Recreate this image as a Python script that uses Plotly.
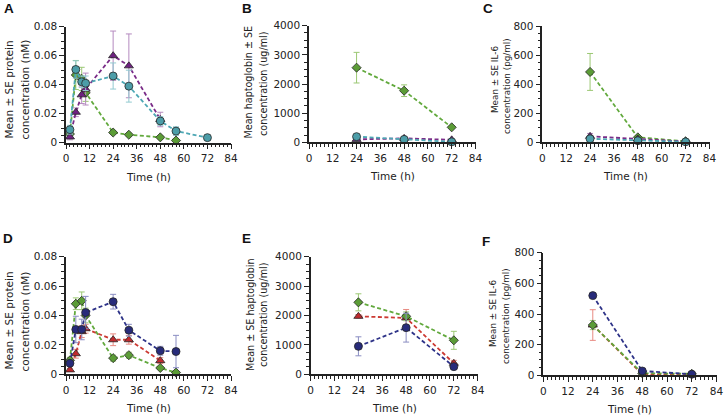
import plotly.graph_objects as go

W, H = 724, 416

# ---------------- data ----------------
hours_full = [2, 5, 8, 10, 24, 32, 48, 56, 72]
hours_to56 = [2, 5, 8, 10, 24, 32, 48, 56]
hours_to48 = [2, 5, 8, 10, 24, 32, 48]
hours_late = [24, 48, 72]

x_ticks = [0, 12, 24, 36, 48, 60, 72, 84]

# Panel A - protein concentration (nM)
A_purple = [0.004, 0.021, 0.033, 0.037, 0.060, 0.053, 0.016]
A_purple_se = [0.002, 0.003, 0.006, 0.011, 0.017, 0.022, 0.005]
A_teal = [0.009, 0.0505, 0.042, 0.041, 0.046, 0.039, 0.015, 0.008, 0.0035]
A_teal_se = [0.003, 0.006, 0.004, 0.005, 0.009, 0.011, 0.003, 0.003, 0.001]
A_green = [0.006, 0.0467, 0.044, 0.0345, 0.007, 0.0055, 0.0037, 0.0015]
A_green_se = [0.002, 0.010, 0.008, 0.006, 0.001, 0.001, 0.001, 0.0005]

# Panel B - haptoglobin (ug/ml)
B_green = [2560, 1770, 514]
B_green_se = [525, 200, 40]
B_purple = [100, 135, 85]
B_purple_se = [20, 60, 20]
B_teal = [194, 100, 15]
B_teal_se = [20, 20, 5]

# Panel C - IL-6 (pg/ml)
C_green = [484, 34, 7]
C_green_se = [127, 8, 3]
C_purple = [41, 23, 5]
C_purple_se = [20, 5, 2]
C_teal = [24, 11, 3]
C_teal_se = [10, 3, 1]

# Panel D - protein concentration (nM)
D_red = [0.003, 0.014, 0.029, 0.031, 0.0235, 0.0235, 0.0093]
D_red_se = [0.001, 0.003, 0.004, 0.003, 0.004, 0.003, 0.002]
D_green = [0.0095, 0.048, 0.050, 0.040, 0.011, 0.013, 0.0043, 0.0012]
D_green_se = [0.002, 0.004, 0.006, 0.005, 0.002, 0.002, 0.001, 0.0005]
D_navy = [0.0075, 0.0305, 0.0305, 0.042, 0.0494, 0.030, 0.016, 0.0155]
D_navy_se = [0.002, 0.009, 0.007, 0.011, 0.005, 0.004, 0.003, 0.011]

# Panel E - haptoglobin (ug/ml)
E_red = [1972, 1915, 374]
E_red_se = [60, 290, 100]
E_green = [2448, 1972, 1156]
E_green_se = [290, 150, 306]
E_navy = [952, 1586, 261]
E_navy_se = [323, 490, 60]

# Panel F - IL-6 (pg/ml)
F_navy = [520, 28, 7]
F_navy_se = [12, 5, 2]
F_red = [328, 7, 3]
F_red_se = [100, 3, 1]
F_green = [328, 13, 10]
F_green_se = [30, 5, 3]

# ---------------- styles ----------------
STY = {
    "purple": dict(fill="#6E2180", line="#7A2C88", err="#B58ABF", symbol="triangle-up", size=8),
    "teal": dict(fill="#4C9DA8", line="#4DA7B4", err="#92CAD1", symbol="circle", size=8),
    "green": dict(fill="#5B9C36", line="#62A93D", err="#9CC874", symbol="diamond", size=7),
    "navy": dict(fill="#272B7A", line="#2E3388", err="#8A8DC2", symbol="circle", size=8),
    "red": dict(fill="#BF2A2E", line="#CC3A33", err="#E88A82", symbol="triangle-up", size=8),
}

FONT = "DejaVu Sans"
AX_COLOR = "#222222"

# panel geometry in pixels: x0, x1, y_top, y_bottom
GEOM = {
    1: (66, 231, 26.7, 142.7),
    2: (309, 475.5, 25.7, 142.3),
    3: (542.3, 709.5, 26, 142.3),
    4: (66, 231, 256.7, 374.3),
    5: (310.7, 477.7, 256.7, 374.3),
    6: (543.3, 716.5, 252.7, 375.3),
}
YSPEC = {
    1: (0.08, 0.02, 0.005),
    2: (4000, 1000, 250),
    3: (800, 200, 50),
    4: (0.08, 0.02, 0.005),
    5: (4000, 1000, 250),
    6: (800, 200, 50),
}

fig = go.Figure()


def add(panel, name, xs, ys, se):
    s = STY[name]
    sfx = "" if panel == 1 else str(panel)
    fig.add_trace(go.Scatter(
        x=xs, y=ys, mode="lines+markers",
        xaxis="x" + sfx, yaxis="y" + sfx,
        line=dict(color=s["line"], width=1.8, dash="4px,2.5px"),
        marker=dict(symbol=s["symbol"], size=s["size"], color=s["fill"],
                    line=dict(color="#262626", width=0.8)),
        error_y=dict(type="data", array=se, visible=True, color=s["err"],
                     thickness=1, width=3),
        cliponaxis=False, showlegend=False,
    ))


add(1, "green", hours_to56, A_green, A_green_se)
add(1, "purple", hours_to48, A_purple, A_purple_se)
add(1, "teal", hours_full, A_teal, A_teal_se)

add(2, "green", hours_late, B_green, B_green_se)
add(2, "purple", hours_late, B_purple, B_purple_se)
add(2, "teal", hours_late, B_teal, B_teal_se)

add(3, "green", hours_late, C_green, C_green_se)
add(3, "purple", hours_late, C_purple, C_purple_se)
add(3, "teal", hours_late, C_teal, C_teal_se)

add(4, "red", hours_to48, D_red, D_red_se)
add(4, "green", hours_to56, D_green, D_green_se)
add(4, "navy", hours_to56, D_navy, D_navy_se)

add(5, "red", hours_late, E_red, E_red_se)
add(5, "green", hours_late, E_green, E_green_se)
add(5, "navy", hours_late, E_navy, E_navy_se)

add(6, "red", hours_late, F_red, F_red_se)
add(6, "green", hours_late, F_green, F_green_se)
add(6, "navy", hours_late, F_navy, F_navy_se)

layout = dict(
    width=W, height=H, margin=dict(l=0, r=0, t=0, b=0, autoexpand=False),
    paper_bgcolor="white", plot_bgcolor="white",
    font=dict(family=FONT, size=10.5, color=AX_COLOR),
    showlegend=False,
)

for p, (x0, x1, yt, yb) in GEOM.items():
    sfx = "" if p == 1 else str(p)
    ymax, ydt, ymin_dt = YSPEC[p]
    layout["xaxis" + sfx] = dict(
        domain=[x0 / W, x1 / W], anchor="y" + sfx, range=[0, 84], automargin=False,
        tickmode="array", tickvals=x_ticks,
        showline=True, linewidth=1.5, linecolor=AX_COLOR,
        ticks="outside", ticklen=5, tickwidth=1.2, tickcolor=AX_COLOR,
        minor=dict(ticks="outside", ticklen=3, tickwidth=1, tickcolor=AX_COLOR,
                   tickmode="linear", tick0=0, dtick=2),
        showgrid=False, zeroline=False, fixedrange=True,
        tickfont=dict(family=FONT, size=10.5, color=AX_COLOR),
    )
    layout["yaxis" + sfx] = dict(
        domain=[1 - yb / H, 1 - yt / H], anchor="x" + sfx, range=[0, ymax], automargin=False,
        tickmode="linear", tick0=0, dtick=ydt,
        showline=True, linewidth=1.5, linecolor=AX_COLOR,
        ticks="outside", ticklen=5, tickwidth=1.2, tickcolor=AX_COLOR,
        minor=dict(ticks="outside", ticklen=3, tickwidth=1, tickcolor=AX_COLOR,
                   tickmode="linear", tick0=0, dtick=ymin_dt),
        showgrid=False, zeroline=False, fixedrange=True,
        tickfont=dict(family=FONT, size=10.5, color=AX_COLOR),
    )
    # x-axis title
    fig.add_annotation(text="Time (h)", xref="paper", yref="paper",
                       x=(x0 + x1) / 2 / W, y=1 - (yb + 34) / H,
                       xanchor="center", yanchor="middle", showarrow=False,
                       font=dict(family=FONT, size=10.5, color=AX_COLOR))

fig.update_layout(**layout)

# y-axis titles (two lines each, rotated)
ytitles = [
    # (line text, x center px, y center px, font size)
    ("Mean ± SE protein", 8.5, 90, 10.5),
    ("concentration (nM)", 24.5, 89, 10.5),
    ("Mean haptoglobin ± SE", 248.5, 82, 9.6),
    ("concentration (ug/ml)", 264, 84, 9.6),
    ("Mean ± SE IL-6", 495, 79, 8.8),
    ("concentration (pg/ml)", 507, 86, 8.8),
    ("Mean ± SE protein", 8.5, 321, 10.5),
    ("concentration (nM)", 24.5, 321, 10.5),
    ("Mean ± SE haptoglobin", 250, 315, 9.6),
    ("concentration (ug/ml)", 263, 315, 9.6),
    ("Mean ± SE IL-6", 493, 314, 8.8),
    ("concentration (pg/ml)", 506, 316, 8.8),
]
for txt, xc, yc, fs in ytitles:
    fig.add_annotation(text=txt, xref="paper", yref="paper", x=xc / W, y=1 - yc / H,
                       xanchor="center", yanchor="middle", textangle=-90, showarrow=False,
                       font=dict(family=FONT, size=fs, color=AX_COLOR))

# panel letters
letters = [("A", 2, 8.5), ("B", 239.5, 8.5), ("C", 481, 8.5),
           ("D", 1, 239), ("E", 239.5, 239), ("F", 480, 241)]
for lt, xl, yc in letters:
    fig.add_annotation(text="<b>%s</b>" % lt, xref="paper", yref="paper", x=xl / W, y=1 - yc / H,
                       xanchor="left", yanchor="middle", showarrow=False,
                       font=dict(family="Liberation Sans", size=13.5, color="#111111"))

fig.write_html("out.html", config={"displayModeBar": False},
               post_script="document.body.style.margin='0px';document.body.style.overflow='hidden';")
